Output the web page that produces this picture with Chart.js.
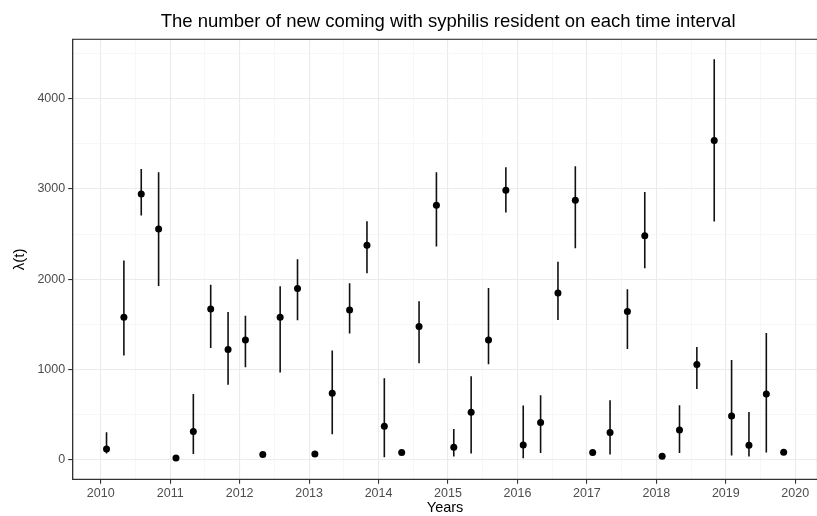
<!DOCTYPE html>
<html>
<head>
<meta charset="utf-8">
<script src="https://cdn.jsdelivr.net/npm/chart.js@4"></script>
<style>
  html, body { margin: 0; padding: 0; background: #fff; overflow: hidden; }
  canvas { display: block; }
</style>
</head>
<body>
<canvas id="chart" width="821" height="516"></canvas>
<script>
// time of each interval (decimal years)
const times = [
  2010.083, 2010.333, 2010.583, 2010.833,
  2011.083, 2011.333, 2011.583, 2011.833,
  2012.083, 2012.333, 2012.583, 2012.833,
  2013.083, 2013.333, 2013.583, 2013.833,
  2014.083, 2014.333, 2014.583, 2014.833,
  2015.083, 2015.333, 2015.583, 2015.833,
  2016.083, 2016.333, 2016.583, 2016.833,
  2017.083, 2017.333, 2017.583, 2017.833,
  2018.083, 2018.333, 2018.583, 2018.833,
  2019.083, 2019.333, 2019.583, 2019.833
];

// estimated lambda(t)
const lambda = [
  120, 1580, 2946, 2558,
  22, 314, 1672, 1222,
  1329, 59, 1580, 1897,
  66, 738, 1661, 2377,
  373, 81, 1476, 2820,
  140, 528, 1329, 2986,
  166, 413, 1849, 2876,
  81, 303, 1643, 2481,
  41, 332, 1056, 3536,
  487, 162, 731, 85
];

// lower / upper bounds of the interval
const lower = [
  70, 1155, 2706, 1927,
  8, 66, 1240, 831,
  1026, 40, 967, 1547,
  45, 284, 1399, 2067,
  30, 60, 1070, 2362,
  37, 70, 1059, 2739,
  18, 77, 1550, 2344,
  60, 59, 1229, 2123,
  25, 77, 786, 2639,
  48, 37, 81, 62
];
const upper = [
  305, 2207, 3222, 3186,
  40, 731, 1941, 1639,
  1595, 80, 1923, 2222,
  88, 1211, 1956, 2643,
  904, 103, 1757, 3186,
  343, 927, 1905, 3241,
  602, 716, 2193, 3252,
  103, 661, 1890, 2968,
  60, 605, 1251, 4437,
  1107, 531, 1406, 108
];

// axis breaks (major labelled, minor in between)
const xBreaks = [2010, 2011, 2012, 2013, 2014, 2015, 2016, 2017, 2018, 2019, 2020];
const xMinor = [2010.5, 2011.5, 2012.5, 2013.5, 2014.5, 2015.5, 2016.5, 2017.5, 2018.5, 2019.5];
const yBreaks = [0, 1000, 2000, 3000, 4000];
const yMinor = [500, 1500, 2500, 3500, 4500];

const FONT = '"Liberation Sans", Arial, Helvetica, sans-serif';

const isMajor = (list, v) => list.includes(v);

// vertical interval lines
const errorBars = {
  id: 'errorBars',
  beforeDatasetsDraw(chart) {
    const { ctx, chartArea, scales: { x, y } } = chart;
    ctx.save();
    ctx.beginPath();
    ctx.rect(chartArea.left, chartArea.top, chartArea.right - chartArea.left, chartArea.bottom - chartArea.top);
    ctx.clip();
    ctx.strokeStyle = '#111';
    ctx.lineWidth = 1.6;
    times.forEach((t, i) => {
      const px = x.getPixelForValue(t);
      ctx.beginPath();
      ctx.moveTo(px, y.getPixelForValue(lower[i]));
      ctx.lineTo(px, y.getPixelForValue(upper[i]));
      ctx.stroke();
    });
    ctx.restore();
  }
};

// full panel border + centered title
const panel = {
  id: 'panel',
  afterDatasetsDraw(chart) {
    const { ctx, chartArea: a } = chart;
    ctx.save();
    ctx.strokeStyle = '#333';
    ctx.lineWidth = 1.1;
    ctx.strokeRect(a.left, a.top, a.right - a.left, a.bottom - a.top);
    ctx.restore();
  },
  afterDraw(chart) {
    const { ctx, chartArea: a } = chart;
    ctx.save();
    ctx.font = '18.5px ' + FONT;
    ctx.fillStyle = '#000';
    ctx.textAlign = 'center';
    ctx.textBaseline = 'alphabetic';
    ctx.fillText('The number of new coming with syphilis resident on each time interval', (a.left + a.right) / 2 + 3, 27);
    ctx.restore();
  }
};

new Chart(document.getElementById('chart'), {
  type: 'scatter',
  data: {
    datasets: [{
      data: times.map((t, i) => ({ x: t, y: lambda[i] })),
      backgroundColor: '#000',
      borderWidth: 0,
      pointRadius: 3.5,
      pointHoverRadius: 3.5
    }]
  },
  options: {
    responsive: false,
    devicePixelRatio: 1,
    animation: false,
    layout: { padding: { top: 39.3, left: 0, right: 0, bottom: 0 } },
    plugins: {
      legend: { display: false },
      tooltip: { enabled: false },
      title: { display: false }
    },
    scales: {
      x: {
        type: 'linear',
        min: 2009.596,
        max: 2020.32,
        afterBuildTicks(s) {
          s.ticks = xBreaks.concat(xMinor).sort((a, b) => a - b).map(v => ({ value: v }));
        },
        afterFit(s) { s.height = 36.7; },
        grid: {
          color: c => isMajor(xBreaks, c.tick.value) ? '#ebebeb' : '#f4f4f4',
          lineWidth: c => isMajor(xBreaks, c.tick.value) ? 1.1 : 0.7,
          tickColor: c => isMajor(xBreaks, c.tick.value) ? '#333' : 'rgba(0,0,0,0)',
          tickLength: 4.5,
          drawTicks: true
        },
        border: { display: true, color: '#333', width: 1.1 },
        ticks: {
          autoSkip: false,
          maxRotation: 0,
          padding: 2,
          color: '#4d4d4d',
          font: { family: FONT, size: 12.5 },
          callback: v => isMajor(xBreaks, v) ? String(v) : ''
        },
        title: {
          display: true,
          text: 'Years',
          color: '#000',
          font: { family: FONT, size: 14.5, lineHeight: 1.1 },
          padding: { top: 0, bottom: 0 }
        }
      },
      y: {
        type: 'linear',
        min: -215,
        max: 4658,
        afterBuildTicks(s) {
          s.ticks = yBreaks.concat(yMinor).sort((a, b) => a - b).map(v => ({ value: v }));
        },
        afterFit(s) { s.width = 72.7; },
        grid: {
          color: c => isMajor(yBreaks, c.tick.value) ? '#ebebeb' : '#f4f4f4',
          lineWidth: c => isMajor(yBreaks, c.tick.value) ? 1.1 : 0.7,
          tickColor: c => isMajor(yBreaks, c.tick.value) ? '#333' : 'rgba(0,0,0,0)',
          tickLength: 4.5,
          drawTicks: true
        },
        border: { display: true, color: '#333', width: 1.1 },
        ticks: {
          autoSkip: false,
          padding: 3,
          color: '#4d4d4d',
          font: { family: FONT, size: 12.5 },
          callback: v => isMajor(yBreaks, v) ? String(v) : ''
        },
        title: {
          display: true,
          text: 'λ(t)',
          color: '#000',
          font: { family: FONT, size: 15, lineHeight: 1.1 },
          padding: { top: 12, bottom: 0 }
        }
      }
    }
  },
  plugins: [errorBars, panel]
});
</script>
</body>
</html>
